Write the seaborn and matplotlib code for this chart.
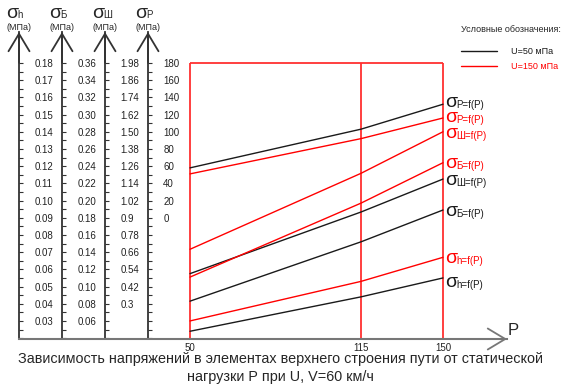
"""
Stress in track superstructure elements vs static load P (nomogram style).
"""

import numpy as np
import pandas as pd
import matplotlib
matplotlib.use("Agg")
import matplotlib.pyplot as plt
import seaborn as sns
from matplotlib.lines import Line2D

# --- Data ---
P_VALUES = [50, 115, 150]

# U=50 мПа (black)
SIGMA_P_U50 = [58, 103, 132]
SIGMA_SH_U50 = [0.51, 0.94, 1.17]
SIGMA_B_U50 = [0.083, 0.152, 0.189]
SIGMA_H_U50 = [0.024, 0.044, 0.055]

# U=150 мПа (red)
SIGMA_P_U150 = [51, 92, 116]
SIGMA_SH_U150 = [0.68, 1.21, 1.50]
SIGMA_B_U150 = [0.111, 0.197, 0.244]
SIGMA_H_U150 = [0.030, 0.053, 0.067]

# tick labels of the four stress scales, top to bottom
H_TICKS = ["0.18", "0.17", "0.16", "0.15", "0.14", "0.13", "0.12", "0.11",
           "0.10", "0.09", "0.08", "0.07", "0.06", "0.05", "0.04", "0.03"]
B_TICKS = ["0.36", "0.34", "0.32", "0.30", "0.28", "0.26", "0.24", "0.22",
           "0.20", "0.18", "0.16", "0.14", "0.12", "0.10", "0.08", "0.06"]
SH_TICKS = ["1.98", "1.86", "1.74", "1.62", "1.50", "1.38", "1.26", "1.14",
            "1.02", "0.9", "0.78", "0.66", "0.54", "0.42", "0.3"]
SP_TICKS = ["180", "160", "140", "120", "100", "80", "60", "40", "20", "0"]

LEGEND_LABELS = ["U=50 мПа", "U=150 мПа"]
COLORS = {"U=50 мПа": "#1a1a1a", "U=150 мПа": "#ff0000"}

TITLE_LINES = ["Зависимость напряжений в элементах верхнего строения пути от статической",
               "нагрузки Р при U, V=60 км/ч"]

# --- Layout (pixels of a 564x388 figure) ---
W, H = 564, 388
AX_LEFT, AX_RIGHT, AX_TOP, AX_BOTTOM = 19, 507, 32, 339
SCALE_X = [19, 62, 105, 148]          # x of the four vertical scales
P_POS = [190, 361, 443]               # x of the P ticks (uneven spacing)
Y_LIM = (-141, 216)                   # main y in sigma_P units


def p_fwd(p):
    p = np.asarray(p, dtype=float)
    s0 = (P_POS[1] - P_POS[0]) / (P_VALUES[1] - P_VALUES[0])
    s1 = (P_POS[2] - P_POS[1]) / (P_VALUES[2] - P_VALUES[1])
    return np.where(p < P_VALUES[1], P_POS[0] + (p - P_VALUES[0]) * s0,
                    P_POS[1] + (p - P_VALUES[1]) * s1)


def p_inv(x):
    x = np.asarray(x, dtype=float)
    s0 = (P_POS[1] - P_POS[0]) / (P_VALUES[1] - P_VALUES[0])
    s1 = (P_POS[2] - P_POS[1]) / (P_VALUES[2] - P_VALUES[1])
    return np.where(x < P_POS[1], P_VALUES[0] + (x - P_POS[0]) / s0,
                    P_VALUES[1] + (x - P_POS[1]) / s1)


SP_TOP = float(SP_TICKS[0])
SP_STEP = float(SP_TICKS[0]) - float(SP_TICKS[1])


def make_scale(ticks):
    top = float(ticks[0])
    step = top - float(ticks[1])

    def to_main(v):
        return SP_TOP - (top - np.asarray(v, dtype=float)) / step * SP_STEP

    def from_main(y):
        return top - (SP_TOP - np.asarray(y, dtype=float)) / SP_STEP * step

    return from_main, to_main


SCALES = {
    "h": (H_TICKS, make_scale(H_TICKS)),
    "Б": (B_TICKS, make_scale(B_TICKS)),
    "Ш": (SH_TICKS, make_scale(SH_TICKS)),
    "P": (SP_TICKS, make_scale(SP_TICKS)),
}

SERIES = [
    # quantity, U label, values, label baseline drop (px)
    ("P", "U=50 мПа", SIGMA_P_U50, 2.5),
    ("Ш", "U=50 мПа", SIGMA_SH_U50, 6),
    ("Б", "U=50 мПа", SIGMA_B_U50, 6),
    ("h", "U=50 мПа", SIGMA_H_U50, 9),
    ("P", "U=150 мПа", SIGMA_P_U150, 4.5),
    ("Ш", "U=150 мПа", SIGMA_SH_U150, 6),
    ("Б", "U=150 мПа", SIGMA_B_U150, 5),
    ("h", "U=150 мПа", SIGMA_H_U150, 6),
]


def build_frame():
    rows = []
    for q, u, vals, _ in SERIES:
        to_main = SCALES[q][1][1]
        for p, v in zip(P_VALUES, vals):
            rows.append({"P": p, "value": v, "y": float(to_main(v)),
                         "U": u, "series": f"{q} {u}"})
    return pd.DataFrame(rows)


def main():
    sns.set_theme(style="white")
    plt.rcParams["font.family"] = ["Liberation Sans", "DejaVu Sans"]
    ink = "#333333"

    fig = plt.figure(figsize=(W / 100, H / 100), dpi=100)
    ax = fig.add_axes([AX_LEFT / W, 1 - AX_BOTTOM / H,
                       (AX_RIGHT - AX_LEFT) / W, (AX_BOTTOM - AX_TOP) / H])
    ax.set_xscale("function", functions=(p_fwd, p_inv))
    ax.set_xlim(float(p_inv(AX_LEFT)), float(p_inv(AX_RIGHT)))
    ax.set_ylim(*Y_LIM)

    # red frame of the working field
    top = SP_TOP
    ax.vlines(P_VALUES, Y_LIM[0], top, color="#ff3030", lw=1.3, zorder=1)
    ax.hlines(top, P_VALUES[0], P_VALUES[-1], color="#ff3030", lw=1.3, zorder=1)

    df = build_frame()
    sns.lineplot(data=df, x="P", y="y", hue="U", units="series",
                 estimator=None, sort=False, palette=COLORS, linewidth=1.0,
                 legend=False, ax=ax, zorder=3)

    # curve labels at the right end
    for q, u, vals, dy in SERIES:
        y_end = float(SCALES[q][1][1](vals[-1]))
        ax.annotate("σ", xy=(P_VALUES[-1], y_end), xytext=(2, -dy),
                    textcoords="offset pixels", ha="left", va="baseline",
                    fontsize=14, color=COLORS[u])
        ax.annotate(f"{q}=f(P)", xy=(P_VALUES[-1], y_end), xytext=(13.5, -dy - 1),
                    textcoords="offset pixels", ha="left", va="baseline",
                    fontsize=7, color=COLORS[u])

    # main axes styling
    for side in ("left", "top", "right"):
        ax.spines[side].set_visible(False)
    ax.spines["bottom"].set_color("#777777")
    ax.spines["bottom"].set_linewidth(1.5)
    ax.set_yticks([])
    ax.set_xticks(P_VALUES, [str(p) for p in P_VALUES])
    ax.tick_params(axis="x", length=0, pad=3, labelsize=7, labelcolor="#222222")
    ax.set_xlabel("")
    ax.set_ylabel("")

    arrow = "->,head_length=1.26,head_width=0.756"
    ax.annotate("", xy=(1, 0), xytext=(0.9, 0), xycoords="axes fraction",
                arrowprops=dict(arrowstyle=arrow, color="#777777", lw=1.3,
                                shrinkA=0, shrinkB=0, mutation_scale=10))
    ax.annotate("P", xy=(1, 0), xycoords="axes fraction", xytext=(1, 4),
                textcoords="offset pixels", ha="left", va="baseline", fontsize=12)

    # the four stress scales
    width = AX_RIGHT - AX_LEFT
    for (name, (ticks, funcs)), px in zip(SCALES.items(), SCALE_X):
        loc = (px - AX_LEFT) / width
        sec = ax.secondary_yaxis(loc, functions=funcs)
        sec.set_alignment("right")
        vals = [float(t) for t in ticks]
        step = vals[0] - vals[1]
        lo = float(funcs[0](Y_LIM[0]))
        minor = np.arange(vals[0], lo - 1e-9, -step / 2)
        sec.set_ticks(vals, labels=ticks)
        sec.set_ticks(minor, minor=True)
        sec.spines["right"].set_color(ink)
        sec.spines["right"].set_linewidth(1.3)
        sec.tick_params(axis="y", which="both", length=3, width=0.8, color=ink,
                        pad=8, labelsize=7, labelcolor="#222222")
        ax.annotate("", xy=(loc, 1), xytext=(loc, 0.9), xycoords="axes fraction",
                    arrowprops=dict(arrowstyle=arrow, color=ink, lw=1.3,
                                    shrinkA=0, shrinkB=0, mutation_scale=10))
        ax.annotate("σ", xy=(loc, 1), xycoords="axes fraction", xytext=(-1, 13.5),
                    textcoords="offset pixels", ha="right", va="baseline",
                    fontsize=14)
        ax.annotate(name, xy=(loc, 1), xycoords="axes fraction", xytext=(-2, 13.5),
                    textcoords="offset pixels", ha="left", va="baseline",
                    fontsize=7)
        ax.annotate("(МПа)", xy=(loc, 1), xycoords="axes fraction", xytext=(0, 4),
                    textcoords="offset pixels", ha="center", va="center",
                    fontsize=6.5)

    # legend
    fig.text(461 / W, 1 - 29 / H, "Условные обозначения:", ha="left",
             va="center", fontsize=6.5)
    handles = [Line2D([], [], color=COLORS[l], lw=1.0) for l in LEGEND_LABELS]
    leg = fig.legend(handles, LEGEND_LABELS, loc="upper left",
                     bbox_to_anchor=(461 / W, 1 - 47 / H), frameon=False,
                     fontsize=6.5, handlelength=4, handletextpad=1.55,
                     labelspacing=0.7, borderpad=0, borderaxespad=0)
    for txt, l in zip(leg.get_texts(), LEGEND_LABELS):
        txt.set_color(COLORS[l])

    # caption under the chart
    for line, base in zip(TITLE_LINES, (363, 381)):
        fig.text(280 / W, 1 - base / H, line, ha="center", va="baseline",
                 fontsize=10.4)

    fig.savefig("out.png", dpi=100)


if __name__ == "__main__":
    main()
